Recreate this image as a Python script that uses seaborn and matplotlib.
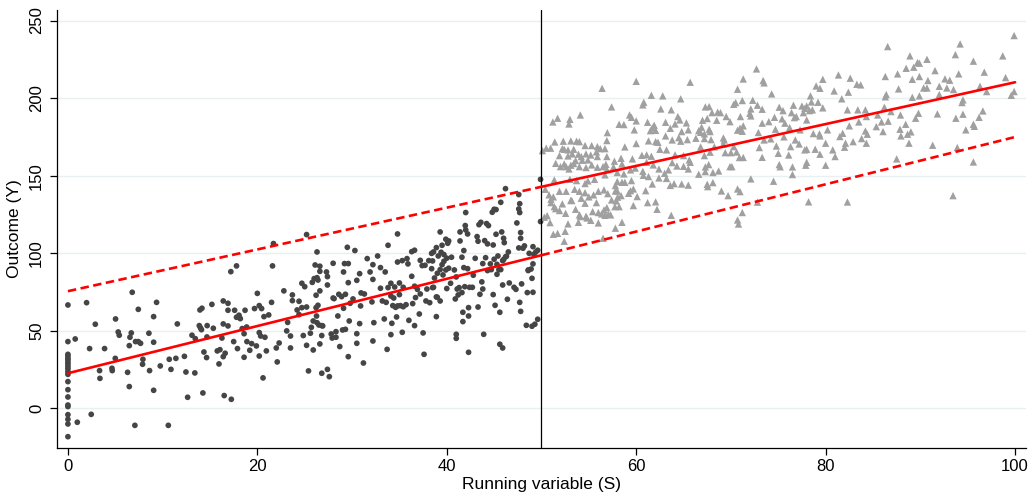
import numpy as np
import pandas as pd
import matplotlib
matplotlib.use("Agg")
import matplotlib.pyplot as plt
import seaborn as sns

# ---------------- data ----------------
# control group (S < 50): dark dots
left_x_a = [0, 0, 0, 0, 0, 0, 0, 0, 0, 0,
            0, 0, 0, 0, 0, 0, 0, 0, 0, 0,
            0,
            0.77, 0.99, 1.97, 2.29, 2.46, 2.89, 3.34, 3.38, 3.87, 4.65,
            4.68, 5.03, 5.0, 5.31, 5.42, 6.3, 6.48, 6.48, 6.55, 6.69,
            6.79, 7.07, 7.14, 7.43, 7.43, 7.67, 7.92, 7.88, 8.55, 8.62,
            9.05, 9.05, 9.05, 9.36, 9.75, 10.6, 10.7, 10.88, 11.4, 11.55,
            12.3, 12.46, 12.64, 13.1, 13.4, 13.45, 13.87, 13.94, 14.0, 14.15,
            14.1, 14.25, 14.36, 14.64, 14.7, 14.68, 15.2, 15.35]
left_y_a = [66.6, 43.0, 34.8, 33.7, 32.2, 31.2, 29.7, 28.4, 26.9, 25.4,
            23.6, 21.9, 17.2, 12.0, 7.3, 2.1, 1.1, -4.1, -7.1, -10.1,
            -18.3,
            44.7, -9.0, 68.1, 38.5, -3.9, 54.2, 24.3, 19.3, 38.5, 25.8,
            24.3, 57.6, 32.2, 49.2, 47.1, 23.2, 14.0, 40.4, 45.8, 48.6,
            74.8, -11.0, 43.0, 63.8, 43.0, 41.9, 31.6, 28.4, 48.4, 24.3,
            11.6, 59.1, 42.6, 68.3, 27.3, -11.0, 31.6, 25.1, 32.2, 54.4,
            33.5, 23.4, 7.1, 47.1, 22.8, 44.9, 53.3, 63.4, 51.8, 64.5,
            50.7, 9.9, 36.3, 32.7, 53.3, 46.0, 67.0, 51.6]

left_x_b = [15.95, 15.77, 16.05, 16.26, 16.4, 16.4, 16.4, 16.6, 16.5, 16.9,
            16.9, 16.9, 17.2, 17.25, 17.5, 17.6, 17.8, 17.8, 17.9, 18.06,
            18.1, 18.2, 18.4, 18.6, 18.6, 18.7, 18.87, 18.9, 19.2, 19.4,
            19.7, 19.9, 20.0, 20.2, 20.2, 20.2, 20.35, 20.45, 20.6, 20.7,
            20.8, 20.95, 21.2, 21.5, 21.6, 21.7, 22.0, 22.1, 22.3, 22.8,
            23.1, 23.2, 23.5, 23.5, 23.7, 23.7, 24.2, 24.4, 24.4, 24.7,
            24.7, 24.85, 25.0, 25.2, 25.2, 25.2, 25.4, 25.6, 25.7, 25.8,
            25.9, 25.9, 26.0, 26.1, 26.2, 26.2, 26.25, 26.3, 26.3, 26.3,
            26.4, 26.4, 26.5, 26.6, 26.6, 26.6, 26.6, 26.8, 26.8, 26.9,
            26.8, 27.3, 27.4, 27.4, 27.4, 27.6, 27.8, 27.9, 28.0, 28.0,
            28.1, 28.3, 28.3, 28.5, 28.6, 28.7, 28.9, 29.0, 29.1, 29.1,
            29.2, 29.3, 29.3, 29.5, 29.6, 29.6, 29.6, 29.7, 29.8, 30.1,
            30.3, 30.5, 30.5, 30.5, 30.8, 30.9, 30.8, 30.95, 31.2, 31.3,
            31.6, 31.9, 32.1, 32.2, 32.2, 32.2, 32.3]
left_y_b = [28.6, 37.0, 37.8, 45.3, 54.4, 69.2, 33.3, 35.5, 8.2, 53.1,
            67.7, 63.2, 88.1, 5.8, 43.0, 63.2, 91.8, 58.7, 38.5, 60.0,
            58.7, 57.8, 51.4, 48.1, 32.9, 63.2, 52.4, 43.0, 37.4, 41.7,
            64.3, 40.2, 74.1, 48.8, 33.7, 66.2, 46.6, 64.3, 19.6, 59.1,
            45.8, 37.0, 60.2, 68.3, 91.8, 106.2, 38.9, 29.9, 42.1, 75.7,
            49.9, 55.4, 46.6, 38.9, 73.1, 69.4, 63.4, 69.0, 60.4, 64.9,
            80.6, 46.9, 78.4, 65.3, 40.6, 112.0, 24.1, 48.4, 52.2, 81.2,
            56.3, 37.6, 83.6, 92.4, 64.9, 72.9, 59.5, 55.2, 100.8, 84.2,
            82.7, 66.4, 53.7, 41.5, 91.6, 75.7, 88.3, 22.6, 53.3, 53.1,
            46.9, 87.9, 84.9, 25.1, 79.5, 20.4, 47.9, 45.3, 93.5, 71.1,
            70.7, 49.4, 45.8, 59.5, 73.5, 39.8, 72.0, 50.5, 87.9, 64.5,
            93.3, 50.9, 73.5, 103.8, 93.3, 81.0, 33.3, 56.3, 67.7, 70.5,
            101.7, 82.5, 48.1, 41.9, 86.8, 66.0, 54.6, 74.4, 29.2, 73.7,
            96.5, 87.9, 68.6, 92.6, 83.1, 43.4, 55.2]

left_x_c = [32.7, 33.0, 33.0, 33.2, 33.4, 33.5, 33.6, 33.7, 33.8, 33.8,
            34.1, 34.1, 34.1, 34.2, 34.3, 34.4, 34.5, 34.6, 34.7, 34.8,
            34.8, 34.8, 35.0, 35.0, 35.1, 35.3, 35.3, 35.4, 35.4, 35.7,
            35.8, 35.9, 36.0, 36.3, 36.3, 36.4, 36.6, 36.6, 36.6, 36.7,
            36.9, 37.1, 37.2, 37.2, 37.4, 37.5, 37.6, 37.7, 37.8, 37.9,
            38.1, 38.2, 38.4, 38.4, 38.5, 38.5, 38.6, 38.6, 38.7, 38.9,
            38.9, 39.0, 38.9, 39.0, 39.1, 39.3, 39.3, 39.3, 39.4, 39.5,
            39.5, 39.6, 39.7, 39.7, 39.9, 39.9, 40.0, 40.0, 40.1, 40.2,
            40.2, 40.4, 40.5, 40.8, 40.9, 41.0, 41.0, 41.0, 41.1, 41.2,
            41.3, 41.4, 41.4, 41.6, 41.6, 41.7, 41.7, 41.8, 41.8, 41.9,
            41.95, 42.0, 42.0, 42.2, 42.2, 42.3, 42.3, 42.3, 42.4, 42.7,
            42.8, 43.0, 43.2, 43.3, 43.3, 43.4, 43.5, 43.6, 43.7, 43.8,
            43.8, 43.9, 44.0, 44.1, 44.2, 44.3, 44.3, 44.4, 44.6, 44.7,
            44.8, 44.9, 44.9, 45.0, 45.0, 45.1, 45.2, 45.2, 45.3, 45.3,
            45.4, 45.5, 45.6, 45.6, 45.7, 45.7, 45.8, 45.9, 45.9, 45.9,
            46.0, 46.07, 46.0, 46.2, 46.2, 46.3, 46.4, 46.5, 46.6, 47.1,
            47.3, 47.4, 47.6, 47.6, 47.7, 47.7, 47.6, 47.7, 47.8, 47.8,
            47.8, 47.9, 48.05, 48.2, 48.4, 48.5, 48.6, 48.6, 48.7, 48.9,
            49.0, 49.0, 49.1, 49.1, 49.1, 49.2, 49.3, 49.4, 49.6, 49.6,
            49.9, 49.9]
left_y_c = [98.2, 90.7, 77.4, 69.2, 57.6, 87.9, 68.3, 38.0, 105.1, 77.8,
            80.6, 72.4, 47.5, 54.8, 66.2, 71.1, 78.2, 65.1, 58.9, 112.4,
            66.0, 94.3, 80.8, 73.3, 66.2, 49.0, 95.2, 65.5, 78.0, 66.8,
            96.5, 93.1, 56.7, 85.1, 101.0, 67.5, 101.9, 78.7, 53.3, 71.4,
            76.7, 60.8, 73.7, 95.4, 92.0, 48.6, 34.8, 92.2, 69.2, 76.9,
            95.2, 68.1, 99.9, 90.0, 77.8, 95.0, 100.8, 78.0, 84.0, 59.1,
            103.6, 87.0, 71.8, 71.6, 98.2, 113.7, 89.4, 69.2, 100.6, 105.1,
            92.6, 86.0, 99.1, 94.8, 89.2, 109.0, 96.8, 77.2, 106.4, 107.9,
            90.3, 80.6, 97.4, 89.2, 70.5, 84.7, 47.7, 45.1, 76.9, 73.1,
            77.8, 113.7, 107.9, 97.4, 74.6, 55.9, 61.9, 90.7, 101.7, 78.4,
            117.8, 126.2, 115.0, 112.4, 90.0, 64.9, 36.1, 59.5, 78.0, 78.0,
            85.8, 96.7, 110.7, 107.7, 65.3, 118.4, 73.5, 119.9, 81.5, 93.3,
            76.9, 47.7, 108.1, 97.1, 119.1, 88.8, 106.0, 117.8, 93.1, 89.4,
            126.4, 73.3, 105.3, 96.1, 128.3, 66.4, 112.2, 128.1, 92.8, 86.4,
            98.2, 89.4, 61.9, 41.3, 89.4, 132.8, 113.7, 79.5, 38.9, 95.2,
            109.6, 106.8, 95.9, 97.6, 141.6, 98.0, 70.3, 100.8, 80.8, 78.0,
            76.7, 119.5, 128.5, 137.8, 126.2, 131.9, 103.4, 68.3, 62.5, 113.3,
            109.6, 80.2, 103.2, 104.7, 53.5, 74.6, 88.8, 89.2, 99.9, 89.8,
            83.8, 52.9, 104.2, 74.8, 93.1, 99.3, 54.2, 100.8, 57.4, 101.9,
            147.6, 120.4]

# treated group (S >= 50): grey triangles
right_x_a = [56.4, 60.0, 65.7, 61.6, 62.8, 64.7, 60.8, 60.7, 57.4, 62.6,
             63.7, 54.1, 51.7, 51.2, 53.0, 52.9, 64.4, 64.6, 59.3, 59.5,
             60.0, 58.2, 58.7, 61.2, 63.1, 64.1, 65.3, 61.9, 61.7, 61.5,
             59.8, 56.95, 63.6, 62.05, 64.8, 65.5, 66.6, 63.1, 63.8, 64.5,
             66.3, 56.9, 51.4, 52.3, 53.1, 53.7, 54.0, 54.6, 55.3, 55.9,
             56.2, 56.7, 58.8, 60.0, 61.3, 62.05, 62.3, 64.7, 65.4, 50.1,
             50.5, 50.96, 52.2, 52.4, 52.8, 53.4, 53.9, 54.2, 54.7, 55.2,
             55.8, 55.9, 56.9, 57.7, 58.4, 59.6, 60.6, 61.1, 61.6, 62.5,
             63.2, 64.1, 65.0, 65.6, 51.9, 52.8, 53.25, 51.5, 52.0, 52.4,
             52.6, 52.9, 53.1, 53.4, 53.6, 54.0, 54.3, 54.7, 54.9, 55.3,
             55.9, 56.5, 56.8, 56.9, 57.6, 58.0, 58.5, 58.7, 59.4, 59.9,
             60.7, 61.1, 61.8, 62.4, 63.0, 63.4, 63.8, 64.3, 65.0, 65.5,
             65.7, 66.6, 51.35, 53.0, 53.7, 54.6, 54.9, 55.6, 56.7, 58.0,
             58.5, 59.5, 60.75, 61.3, 61.7, 62.4, 63.2, 63.6, 64.0, 64.8,
             65.5, 50.4, 50.8, 51.0, 51.25, 51.9, 52.6, 53.1, 53.5, 54.0,
             54.2, 54.6, 55.0, 55.5, 56.0, 56.6, 57.0, 57.8, 58.0, 58.4,
             59.2, 59.4, 59.7, 60.1, 61.0, 57.8, 58.8, 51.0, 51.35, 51.5,
             51.9, 52.2, 52.55, 53.2, 53.6, 54.0, 54.6, 54.7, 55.4, 55.8,
             56.0, 56.35, 56.6, 56.9, 57.05, 57.3, 57.4, 57.9, 57.76, 58.04,
             58.2, 59.7, 61.2, 62.05, 62.2, 63.7, 50.6, 50.9, 50.3, 52.8,
             53.9, 54.1, 54.8, 55.2, 56.0, 56.7, 58.5, 57.8, 52.5, 51.25,
             51.7, 52.4, 56.5]
right_y_a = [206.3, 210.8, 210.2, 201.8, 201.4, 199.5, 197.3, 195.6, 194.3, 193.0,
             192.4, 189.1, 187.0, 184.6, 186.3, 183.3, 188.1, 185.9, 189.1, 187.6,
             185.3, 183.1, 182.9, 184.4, 184.4, 183.3, 184.0, 182.5, 180.8, 179.0,
             179.5, 177.7, 180.5, 179.2, 178.4, 179.5, 179.0, 175.6, 173.0, 174.5,
             174.1, 172.6, 171.7, 172.2, 172.4, 172.2, 171.9, 169.4, 169.4, 168.7,
             167.4, 167.4, 168.5, 170.7, 172.4, 171.9, 171.5, 172.2, 173.2, 166.1,
             167.7, 167.7, 167.4, 167.0, 166.6, 167.0, 163.8, 162.3, 164.0, 163.3,
             165.3, 162.3, 162.3, 159.3, 161.2, 160.8, 163.1, 163.4, 162.5, 167.0,
             166.6, 163.4, 162.9, 160.1, 162.9, 162.7, 164.0, 157.9, 155.8, 157.5,
             155.8, 154.3, 156.7, 157.8, 159.7, 155.8, 159.9, 155.2, 160.1, 156.9,
             155.4, 155.8, 157.3, 153.9, 155.6, 152.0, 157.5, 151.1, 153.7, 154.9,
             152.8, 158.6, 156.9, 154.3, 151.5, 153.7, 158.4, 156.2, 156.0, 154.3,
             158.6, 150.9, 147.2, 147.6, 146.8, 144.9, 146.6, 147.6, 150.5, 146.2,
             145.7, 146.8, 150.2, 149.4, 144.6, 148.5, 148.2, 143.7, 144.8, 144.6,
             143.9, 141.2, 137.6, 134.8, 136.3, 139.9, 139.9, 134.1, 141.2, 139.9,
             135.4, 139.0, 136.3, 137.6, 139.9, 140.8, 138.4, 140.1, 140.1, 137.1,
             138.6, 140.3, 141.4, 136.5, 140.3, 143.6, 145.7, 132.6, 130.0, 128.7,
             127.5, 131.8, 125.7, 133.9, 128.3, 124.7, 132.2, 123.8, 126.8, 132.6,
             126.2, 125.3, 127.9, 129.4, 125.3, 124.7, 134.3, 133.7, 130.0, 136.1,
             130.0, 130.7, 132.6, 133.1, 128.3, 124.4, 124.2, 119.7, 123.2, 118.9,
             119.9, 123.6, 122.7, 121.2, 119.5, 124.4, 119.9, 116.1, 114.1, 112.2,
             112.8, 107.7, 109.6]

right_x_b = [72.7, 71.3, 73.4, 73.5, 70.7, 74.3, 71.2, 72.3, 70.5, 70.3,
             72.8, 73.3, 72.1, 72.0, 72.1, 67.3, 67.7, 68.0, 68.6, 68.9,
             69.5, 67.5, 67.0, 68.5, 69.9, 71.0, 71.3, 70.96, 70.7, 71.2,
             66.9, 67.7, 66.8, 67.2, 67.8, 67.2, 67.9, 69.2, 69.3, 69.2,
             68.25, 66.8, 67.8, 67.2, 69.4, 70.0, 70.3, 70.6, 70.9, 71.3,
             69.9, 70.1, 67.65, 67.3, 67.3, 68.1, 68.7, 67.5, 67.55, 68.1,
             69.0, 69.7, 70.7, 70.96, 72.1, 72.8, 71.2, 70.7, 70.8, 72.9,
             73.3, 73.5, 73.0, 73.3, 74.0, 74.2, 74.6, 74.7, 74.8, 75.0,
             75.1, 75.2, 74.5, 75.1, 75.5, 75.4, 75.7, 76.2, 75.6, 76.3,
             76.1, 76.5, 76.5, 76.6, 76.4, 76.7, 76.9, 77.3, 76.8, 77.2,
             77.5, 77.8, 77.65, 78.0, 78.0, 78.4, 78.5, 78.3, 77.8, 78.0,
             78.0, 77.9, 78.2, 78.6, 78.7, 79.0, 79.2, 79.4, 79.35, 79.4,
             79.7, 79.7, 80.2, 80.0, 79.4, 78.9, 80.0, 80.75, 80.9, 81.35,
             81.7, 81.5, 81.8, 82.4, 82.6, 82.3, 82.5, 82.1, 82.0, 82.3,
             82.9, 83.3, 83.4, 83.5, 81.0]
right_y_b = [218.8, 212.3, 211.3, 209.8, 205.7, 202.7, 198.4, 198.6, 197.1, 196.0,
             195.4, 192.8, 193.0, 190.2, 188.5, 194.3, 194.5, 190.6, 190.9, 190.6,
             188.1, 186.8, 185.7, 185.7, 184.8, 188.1, 182.1, 180.6, 179.3, 178.6,
             181.2, 179.9, 177.9, 176.9, 178.4, 173.9, 173.2, 174.3, 173.0, 170.4,
             168.5, 168.5, 165.1, 162.9, 164.8, 164.8, 168.7, 165.2, 161.7, 161.7,
             155.8, 155.8, 157.1, 155.6, 152.6, 152.0, 153.0, 144.4, 142.9, 145.5,
             140.1, 137.1, 141.4, 139.7, 147.9, 132.9, 126.2, 121.4, 118.8, 177.8,
             183.8, 173.0, 168.1, 161.8, 184.8, 173.7, 187.6, 179.9, 169.1, 164.4,
             157.1, 155.7, 146.4, 194.1, 191.9, 186.6, 183.8, 181.0, 175.0, 168.7,
             163.3, 155.6, 150.7, 195.4, 190.6, 187.4, 188.1, 179.5, 173.0, 170.4,
             194.9, 193.4, 190.6, 194.9, 185.9, 201.4, 197.5, 191.9, 166.6, 167.0,
             158.6, 156.7, 133.1, 192.4, 177.1, 207.8, 197.3, 206.3, 176.9, 175.6,
             212.1, 193.7, 179.5, 170.9, 163.8, 167.0, 156.7, 166.6, 204.6, 214.9,
             199.5, 175.2, 177.3, 203.8, 212.8, 192.4, 182.1, 170.9, 168.3, 133.0,
             171.9, 208.9, 192.4, 184.6, 162.3]

right_x_c = [99.9, 94.2, 86.55, 88.9, 93.7, 98.7, 89.7, 89.9, 90.7, 89.3,
             88.5, 95.6, 87.6, 91.55, 86.3, 89.15, 89.9, 90.8, 94.05, 96.75,
             99.0, 92.6, 93.1, 83.7, 87.7, 90.35, 90.7, 92.0, 92.8, 93.5,
             96.3, 97.0, 99.9, 99.6, 86.4, 86.3, 89.15, 89.9, 92.0, 94.5,
             94.4, 84.2, 84.3, 85.5, 86.2, 86.6, 85.9, 86.06, 85.35, 86.9,
             87.9, 89.8, 89.5, 88.45, 87.85, 87.95, 88.65, 89.0, 88.8, 91.8,
             91.3, 93.75, 94.5, 96.6, 96.2, 95.6, 95.7, 94.8, 93.9, 87.5,
             95.6, 93.45, 84.2, 84.4, 83.8, 84.3]
right_y_c = [240.3, 234.9, 233.2, 227.2, 228.0, 227.2, 222.9, 222.5, 225.0, 219.9,
             219.2, 223.8, 215.6, 217.7, 213.9, 212.1, 213.9, 211.3, 215.6, 216.7,
             213.2, 212.4, 211.5, 208.5, 205.9, 206.5, 206.5, 207.6, 206.5, 205.5,
             207.6, 204.2, 204.2, 201.8, 202.3, 200.8, 200.5, 201.4, 202.3, 198.8,
             197.1, 192.4, 188.1, 189.1, 194.1, 185.1, 184.6, 178.4, 181.6, 191.3,
             189.1, 190.2, 187.0, 183.1, 179.9, 175.6, 176.7, 178.2, 170.9, 189.8,
             169.6, 187.0, 189.6, 191.7, 187.6, 183.1, 181.8, 179.5, 168.1, 160.8,
             158.8, 137.1, 178.8, 176.7, 173.9, 170.9]

# fitted lines (values read at S = 0, 50, 100)
fit_s = [0, 50, 100]
fit_left = [22.6, 98.7, 174.9]    # solid for S<50, dashed beyond
fit_right = [75.5, 142.8, 210.2]  # dashed for S<50, solid beyond
cutoff = 50

x_ticks = [0, 20, 40, 60, 80, 100]
y_ticks = [0, 50, 100, 150, 200, 250]
x_title = "Running variable (S)"
y_title = "Outcome (Y)"

# ---------------- assemble ----------------
groups = [(left_x_a, left_y_a), (left_x_b, left_y_b), (left_x_c, left_y_c),
          (right_x_a, right_y_a), (right_x_b, right_y_b), (right_x_c, right_y_c)]
for gx, gy in groups:
    assert len(gx) == len(gy), (len(gx), len(gy))

left = pd.DataFrame({"S": left_x_a + left_x_b + left_x_c,
                     "Y": left_y_a + left_y_b + left_y_c})
right = pd.DataFrame({"S": right_x_a + right_x_b + right_x_c,
                      "Y": right_y_a + right_y_b + right_y_c})

# ---------------- plot ----------------
sns.set_theme(style="white")
plt.rcParams['font.family'] = ['Liberation Sans', 'DejaVu Sans']

fig = plt.figure(figsize=(10.32, 4.99), dpi=100)
ax = fig.add_axes([0.0548, 0.1022, 0.9398, 0.8778])

ax.set_xlim(-1.2, 101.2)
ax.set_ylim(-25.6, 256.8)
ax.set_yticks(y_ticks)
ax.set_xticks(x_ticks)
ax.yaxis.grid(True, color="#e9f0f1", linewidth=1.0)
ax.xaxis.grid(False)
ax.set_axisbelow(True)

sns.scatterplot(data=left, x="S", y="Y", marker="o", s=17, color="#454545",
                edgecolor="none", linewidth=0, ax=ax, zorder=3)
sns.scatterplot(data=right, x="S", y="Y", marker="^", s=28, color="#a0a0a0",
                edgecolor="none", linewidth=0, ax=ax, zorder=3)

ax.axvline(cutoff, color="black", linewidth=0.9, zorder=4)

red = "#ff0000"
dash = (0, (3.2, 1.7))
sns.lineplot(x=fit_s[:2], y=fit_left[:2], color=red, linewidth=1.9, ax=ax, zorder=5)
sns.lineplot(x=fit_s[1:], y=fit_left[1:], color=red, linewidth=1.9, linestyle=dash, ax=ax, zorder=5)
sns.lineplot(x=fit_s[:2], y=fit_right[:2], color=red, linewidth=1.9, linestyle=dash, ax=ax, zorder=5)
sns.lineplot(x=fit_s[1:], y=fit_right[1:], color=red, linewidth=1.9, ax=ax, zorder=5)

for side in ["top", "right"]:
    ax.spines[side].set_visible(False)
for side in ["left", "bottom"]:
    ax.spines[side].set_color("black")
    ax.spines[side].set_linewidth(0.9)

ax.tick_params(axis="both", direction="out", length=5, width=0.9, color="black",
               labelsize=12, labelcolor="black", bottom=True, left=True)
ax.tick_params(axis="y", pad=4)
ax.tick_params(axis="x", pad=3)
plt.setp(ax.get_yticklabels(), rotation=90, va="center")

ax.set_xlabel(x_title, fontsize=12.5, color="black", labelpad=2)
ax.set_ylabel(y_title, fontsize=12.5, color="black", labelpad=5)

fig.savefig("out.png", dpi=100, facecolor="white")
